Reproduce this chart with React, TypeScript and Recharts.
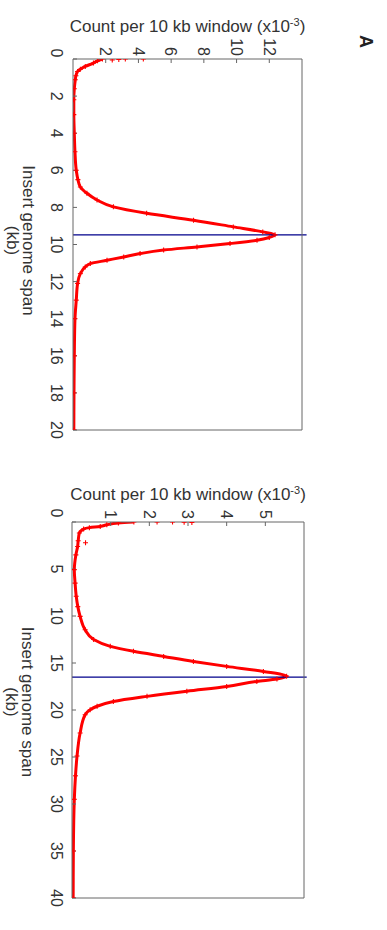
import React from 'react';
import { ComposedChart, Line, Scatter, XAxis, YAxis, ReferenceLine } from 'recharts';

const FONT = '"Liberation Sans", Arial, sans-serif';
const INK = '#333';
const AXIS = '#666';
const RED = '#ff0000';
const NAVY = '#00008b';

// panel A: library up to 20 kb
const spanA = [0, 0.1, 0.22, 0.4, 0.55, 0.67, 0.9, 1.12, 1.6, 2.2, 3, 4, 5, 6, 6.5, 6.9, 7.24, 7.6, 7.97, 8.32, 8.69, 9.05, 9.32, 9.48, 9.62, 9.77, 9.95, 10.13, 10.3, 10.49, 10.67, 10.85, 11.03, 11.21, 11.57, 12.1, 13, 14, 16, 18, 20];
const countA = [1.8, 1.5, 1.25, 0.75, 0.45, 0.28, 0.18, 0.14, 0.08, 0.05, 0.05, 0.08, 0.12, 0.2, 0.3, 0.45, 0.85, 1.47, 2.47, 4.5, 7.37, 9.8, 11.6, 12.35, 12.0, 11.25, 9.6, 7.58, 5.54, 4.1, 3.1, 2.08, 1.06, 0.75, 0.45, 0.28, 0.2, 0.12, 0.08, 0.06, 0.05];
const strayA = [0, 0, 0.03, 0.05];
const strayCountA = [3.2, 4.3, 2.8, 2.4];
const peakA = 9.48;
const kbTicksA = [0, 2, 4, 6, 8, 10, 12, 14, 16, 18, 20];
const countTicksA = [2, 4, 6, 8, 10, 12];

// panel B: library up to 40 kb
const spanB = [0, 0.1, 0.3, 0.47, 0.6, 0.75, 1.17, 2, 2.6, 3.5, 5.07, 6.5, 7.9, 9, 10.04, 11.46, 12.5, 13.23, 13.76, 14.3, 14.83, 15.36, 15.9, 16.4, 16.7, 16.96, 17.5, 18, 18.55, 19.1, 19.6, 19.97, 20.5, 22.45, 24.9, 27, 29.5, 35, 40];
const countB = [1.6, 1.2, 0.9, 0.73, 0.45, 0.3, 0.19, 0.16, 0.145, 0.1, 0.06, 0.08, 0.11, 0.15, 0.21, 0.34, 0.56, 0.99, 1.59, 2.37, 3.14, 4.0, 4.95, 5.55, 5.3, 4.78, 4.0, 2.97, 1.94, 1.07, 0.65, 0.47, 0.34, 0.21, 0.13, 0.09, 0.06, 0.035, 0.03];
const strayB = [0, 0, 0.02, 0.05, 2.2];
const strayCountB = [2.2, 2.6, 2.9, 3.1, 0.35];
const peakB = 16.5;
const kbTicksB = [0, 5, 10, 15, 20, 25, 30, 35, 40];
const countTicksB = [1, 2, 3, 4, 5];

const zip = (kb: number[], count: number[]) => kb.map((k, i) => ({ kb: k, count: count[i] }));

const Cross = (props: any) => {
  const { cx, cy } = props;
  if (cx == null || cy == null) return null;
  return (
    <g stroke={RED} strokeWidth={1.1}>
      <line x1={cx - 2.5} y1={cy} x2={cx + 2.5} y2={cy} />
      <line x1={cx} y1={cy - 2.5} x2={cx} y2={cy + 2.5} />
    </g>
  );
};

const kbTick = (zeroShift: number) => (props: any) => {
  const { x, y, payload } = props;
  const dx = payload.value === 0 ? zeroShift : 0;
  return (
    <text x={x + dx} y={y} dy="0.71em" textAnchor="middle" fontSize={16} fill={INK} fontFamily={FONT}>
      {payload.value}
    </text>
  );
};

const countTick = (props: any) => {
  const { x, y, payload } = props;
  return (
    <text x={x} y={y} dy="0.355em" textAnchor="end" fontSize={16} fill={INK} fontFamily={FONT}>
      {payload.value}
    </text>
  );
};

const countTitle = (gap: number) => (p: any) => {
  const vb = p.viewBox || {};
  const x = vb.x + vb.width - gap;
  const y = vb.y + vb.height / 2;
  return (
    <text x={x} y={y} transform={`rotate(-90, ${x}, ${y})`} textAnchor="middle" fontSize={17} fill={INK} fontFamily={FONT}>
      Count per 10 kb window (x10
      <tspan dy={-6} fontSize={11}>-3</tspan>
      <tspan dy={6}>)</tspan>
    </text>
  );
};

const kbTitle = (shift: number) => (p: any) => {
  const vb = p.viewBox || {};
  const x = vb.x + vb.width / 2 + shift;
  return (
    <text textAnchor="middle" fontSize={17} fill={INK} fontFamily={FONT}>
      <tspan x={x} y={vb.y + 50}>Insert genome span</tspan>
      <tspan x={x} y={vb.y + 66}>(kb)</tspan>
    </text>
  );
};

type PanelProps = {
  left: number;
  margin: { top: number; right: number; bottom: number; left: number };
  yWidth: number;
  curve: { kb: number; count: number }[];
  stray: { kb: number; count: number }[];
  kbMax: number;
  countMax: number;
  kbTicks: number[];
  countTicks: number[];
  peak: number;
  peakTop: number;
  kbMargin: number;
  titleGap: number;
  titleShift: number;
  zeroShift: number;
};

function Panel(p: PanelProps) {
  return (
    <div style={{ position: 'absolute', left: p.left, top: 0 }}>
      <ComposedChart width={460} height={387} data={p.curve} margin={p.margin}>
        <XAxis
          xAxisId="kb"
          dataKey="kb"
          type="number"
          domain={[0, p.kbMax]}
          ticks={p.kbTicks}
          allowDataOverflow
          height={30}
          tickSize={-4}
          tickMargin={p.kbMargin}
          stroke={AXIS}
          tick={kbTick(p.zeroShift)}
          label={kbTitle(p.titleShift)}
        />
        <XAxis
          xAxisId="top"
          orientation="top"
          dataKey="kb"
          type="number"
          domain={[0, p.kbMax]}
          ticks={p.kbTicks}
          allowDataOverflow
          height={1}
          tickSize={-4}
          tick={false}
          stroke={AXIS}
        />
        <YAxis
          yAxisId="count"
          dataKey="count"
          type="number"
          domain={[0, p.countMax]}
          ticks={p.countTicks}
          allowDataOverflow
          width={p.yWidth}
          tickSize={-4}
          tickMargin={7}
          stroke={AXIS}
          tick={countTick}
          label={countTitle(p.titleGap)}
        />
        <YAxis
          yAxisId="right"
          orientation="right"
          dataKey="count"
          type="number"
          domain={[0, p.countMax]}
          ticks={p.countTicks}
          allowDataOverflow
          width={1}
          tickSize={-4}
          tick={false}
          stroke={AXIS}
        />
        <Line
          xAxisId="kb"
          yAxisId="count"
          dataKey="count"
          type="monotone"
          stroke={RED}
          strokeWidth={3}
          dot={false}
          isAnimationActive={false}
        />
        <Scatter
          xAxisId="top"
          yAxisId="right"
          data={[...p.curve, ...p.stray]}
          shape={Cross}
          isAnimationActive={false}
        />
        <ReferenceLine
          xAxisId="kb"
          yAxisId="count"
          segment={[{ x: p.peak, y: 0 }, { x: p.peak, y: p.peakTop }]}
          ifOverflow="visible"
          stroke={NAVY}
          strokeWidth={1.2}
        />
      </ComposedChart>
    </div>
  );
}

export default function App() {
  return (
    <div style={{ position: 'absolute', left: 0, top: 0, width: 387, height: 930, overflow: 'hidden', background: '#fff' }}>
      <div
        style={{
          position: 'absolute',
          left: 0,
          top: 0,
          width: 930,
          height: 387,
          transformOrigin: '0 0',
          transform: 'translateX(387px) rotate(90deg)',
        }}
      >
        <div style={{ position: 'absolute', left: 35, top: 12, fontFamily: FONT, fontWeight: 'bold', fontSize: 18, lineHeight: '18px', color: '#222' }}>
          A
        </div>
        <Panel
          left={0}
          margin={{ top: 84, right: 29, bottom: 43, left: 0 }}
          yWidth={59}
          curve={zip(spanA, countA)}
          stray={zip(strayA, strayCountA)}
          kbMax={20}
          countMax={14}
          kbTicks={kbTicksA}
          countTicks={countTicksA}
          peak={peakA}
          peakTop={14.28}
          kbMargin={15}
          titleGap={27}
          titleShift={-4}
          zeroShift={-6}
        />
        <Panel
          left={470}
          margin={{ top: 82, right: 31, bottom: 42, left: 0 }}
          yWidth={52}
          curve={zip(spanB, countB)}
          stray={zip(strayB, strayCountB)}
          kbMax={40}
          countMax={6}
          kbTicks={kbTicksB}
          countTicks={countTicksB}
          peak={peakB}
          peakTop={6.07}
          kbMargin={14}
          titleGap={22.5}
          titleShift={-8}
          zeroShift={-9}
        />
      </div>
    </div>
  );
}
